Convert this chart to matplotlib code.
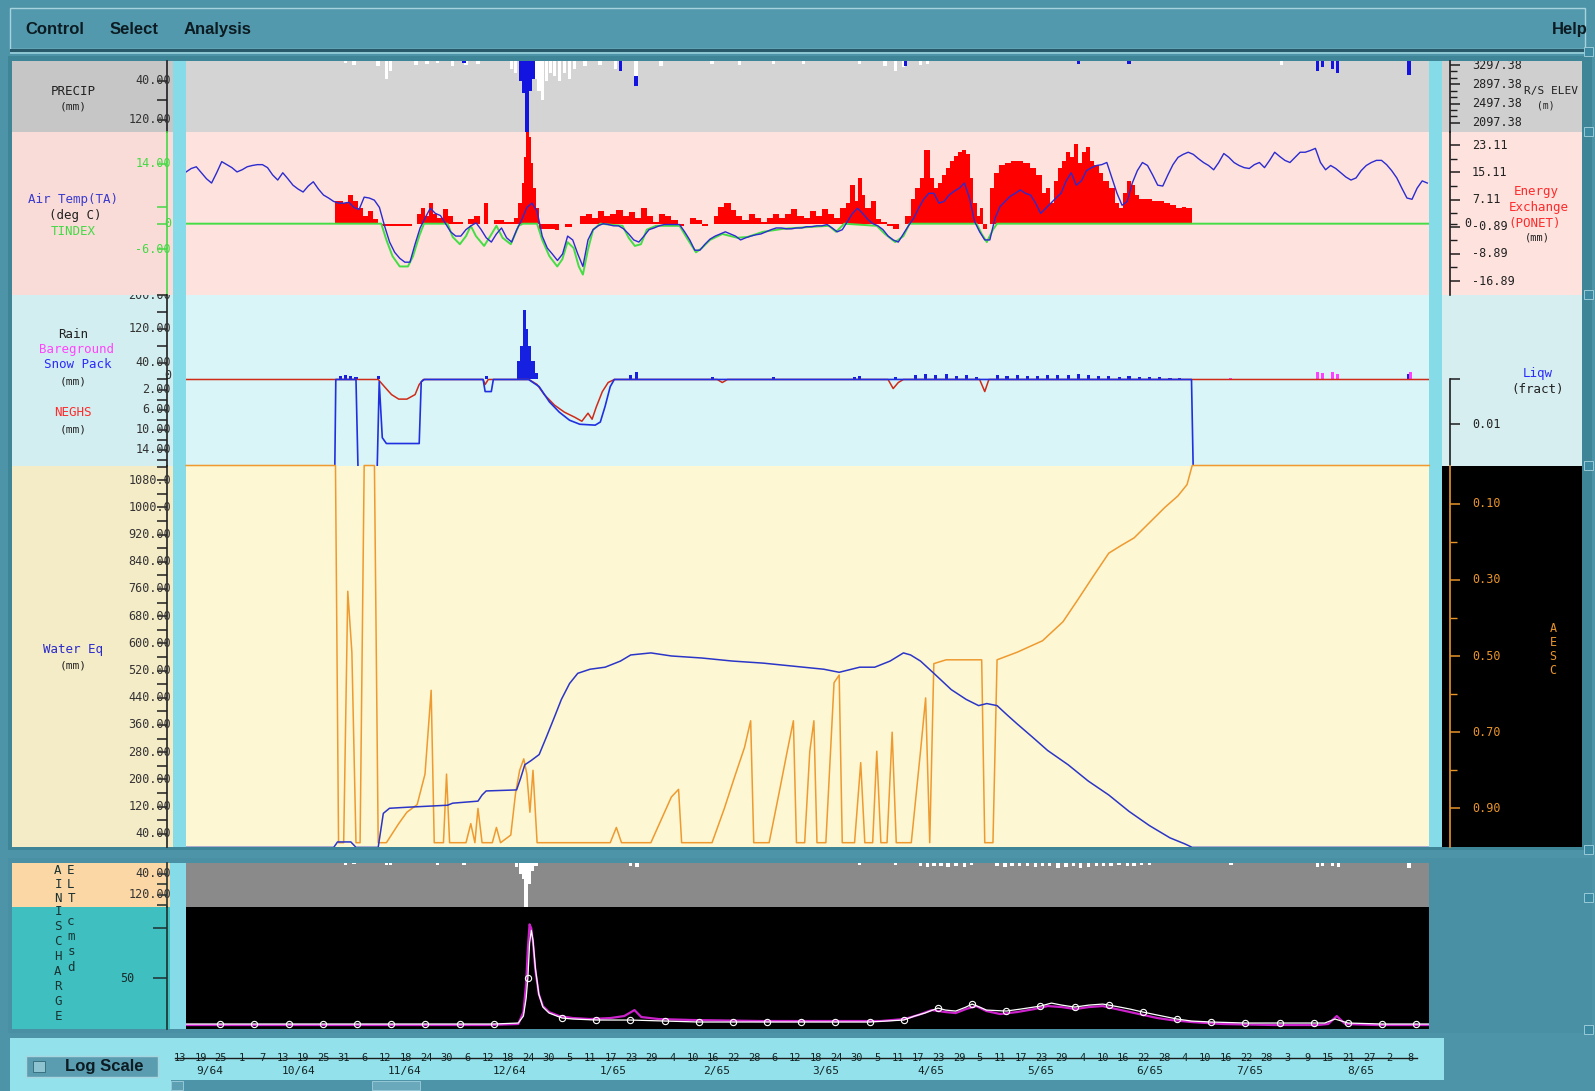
import numpy as np
import matplotlib
matplotlib.use("Agg")
import matplotlib.pyplot as plt
from matplotlib.patches import Rectangle
from matplotlib.transforms import blended_transform_factory

MONO = "DejaVu Sans Mono"
SANS = "Liberation Sans"

# ---------------------------------------------------------------------------
# Time axis: days after 13 Sep 1964
# ---------------------------------------------------------------------------
day_tick_day = list(range(0, 361, 6))
day_tick_labels = ["13", "19", "25", "1", "7", "13", "19", "25", "31", "6",
                   "12", "18", "24", "30", "6", "12", "18", "24", "30", "5",
                   "11", "17", "23", "29", "4", "10", "16", "22", "28", "6",
                   "12", "18", "24", "30", "5", "11", "17", "23", "29", "5",
                   "11", "17", "23", "29", "4", "10", "16", "22", "28", "4",
                   "10", "16", "22", "28", "3", "9", "15", "21", "27", "2", "8"]
month_labels = ["9/64", "10/64", "11/64", "12/64", "1/65", "2/65",
                "3/65", "4/65", "5/65", "6/65", "7/65", "8/65"]
month_label_day = [8.8, 34.6, 65.8, 96.5, 126.8, 157.0,
                   189.0, 219.7, 252.0, 283.7, 312.9, 345.6]

# ---------------------------------------------------------------------------
# PRECIP (mm): rain (white) and snow (blue) bars
# ---------------------------------------------------------------------------
precip_rain_day = [48.5, 50.9, 58.0, 60.4, 61.6, 69.1, 72.3, 75.3, 79.8, 83.7,
                   87.2, 97.0, 98.2, 104.2, 105.1, 106.0, 107.2, 108.4, 109.6, 111.0,
                   112.5, 114.0, 115.5, 118.5, 122.9, 127.4, 133.4, 140.8, 155.7, 163.7,
                   173.6, 182.5, 198.9, 206.3, 209.3, 211.7, 216.7, 218.8, 322.4]
precip_rain_mm = [4, 8, 10, 37, 21, 8, 6, 4, 10, 8,
                  6, 17, 25, 37, 62, 79, 41, 25, 31, 41,
                  25, 37, 17, 10, 8, 17, 31, 10, 6, 8,
                  6, 6, 6, 10, 21, 12, 8, 6, 8]
precip_snow_day = [83.1, 99.7, 100.6, 101.5, 102.4, 103.3, 128.9, 133.4,
                   212.3, 262.9, 277.7, 332.8, 334.3, 337.3, 338.8, 359.6]
precip_snow_mm = [4, 41, 66, 160, 62, 37, 20, 20,
                  10, 6, 6, 21, 12, 17, 25, 29]

# ---------------------------------------------------------------------------
# Air temperature (deg C), 1.5-day samples
# ---------------------------------------------------------------------------
air_temp = [12.1, 12.9, 13.3, 11.9, 10.5, 9.5, 11.9, 14.5, 13.8, 13.1,
            12.1, 12.6, 13.3, 13.6, 13.8, 13.8, 13.1, 11.4, 10.2, 11.9,
            10.5, 9.0, 8.1, 7.4, 8.8, 9.8, 8.1, 6.7, 6.0, 5.2,
            4.8, 4.8, 5.0, 3.8, 3.3, 6.2, 6.0, 5.5, 3.8, -0.5,
            -4.3, -6.7, -8.1, -9.0, -9.0, -4.8, -1.0, 1.4, 3.6, 2.4,
            1.9, 0.0, -1.9, -2.9, -2.9, -1.4, -0.5, 0.2, -1.4, -3.3,
            -4.3, -2.4, -1.0, -3.3, -4.3, -1.4, 1.0, 3.8, 4.8, 2.9,
            -2.9, -5.7, -7.1, -8.6, -7.1, -2.9, -3.8, -7.1, -10.0, -3.8,
            -1.4, -0.5, 0.0, -0.2, -0.5, -0.5, -1.2, -2.4, -3.8, -4.3,
            -2.9, -1.4, -1.0, -0.5, -0.2, -0.2, -0.2, -0.2, -1.9, -3.8,
            -6.2, -6.2, -4.8, -3.6, -2.9, -2.4, -1.9, -2.4, -2.9, -3.8,
            -3.3, -2.9, -2.6, -2.4, -1.9, -1.4, -1.0, -1.0, -1.2, -1.2,
            -1.0, -1.0, -0.7, -0.7, -0.5, -0.5, -0.2, -1.0, -1.9, -1.4,
            0.5, 2.4, 3.6, 2.4, 1.0, 0.0, -0.5, -1.4, -2.9, -3.8,
            -4.3, -2.4, -0.5, 1.2, 3.6, 5.7, 7.1, 7.1, 4.8, 5.2,
            6.7, 7.6, 8.3, 9.5, 6.0, 0.5, -1.9, -3.8, -3.8, 1.2,
            4.0, 5.2, 6.4, 7.1, 7.9, 7.1, 6.7, 4.8, 2.4, 3.6,
            4.8, 6.0, 7.1, 10.0, 11.9, 9.0, 10.0, 12.4, 13.1, 13.6,
            13.8, 14.3, 10.7, 7.1, 4.3, 5.2, 9.5, 12.4, 14.3, 13.6,
            11.4, 9.0, 8.8, 11.4, 13.8, 15.5, 16.2, 16.7, 16.2, 15.2,
            14.3, 13.6, 12.6, 14.3, 16.4, 15.5, 14.3, 13.6, 13.1, 12.9,
            13.8, 14.3, 13.1, 14.8, 16.7, 15.7, 14.8, 14.3, 15.5, 16.7,
            16.7, 17.1, 17.6, 14.3, 12.6, 13.6, 12.9, 11.9, 10.9, 10.2,
            10.7, 12.4, 13.6, 14.3, 14.8, 14.8, 13.8, 12.4, 10.7, 8.3,
            6.0, 5.7, 8.3, 10.0, 9.5]
temp_first_day, temp_last_day = 1.8, 365.0

# TINDEX (deg C)
tindex_day = [1.8, 58.9, 60.4, 62.2, 64.3, 66.7, 68.2, 70.0, 71.4, 78.3,
              79.8, 81.9, 83.7, 85.1, 86.6, 89.0, 90.8, 92.6, 94.4, 96.8,
              99.1, 100.3, 104.5, 106.0, 108.1, 110.4, 111.9, 113.4, 115.2, 116.7,
              117.9, 119.4, 120.9, 123.0, 129.5, 131.3, 133.1, 134.9, 136.6, 139.3,
              146.2, 148.3, 151.0, 152.7, 155.1, 158.7, 163.1, 166.1, 170.6, 176.5,
              185.5, 189.9, 192.0, 194.4, 203.9, 206.3, 209.3, 211.7, 213.5, 233.1,
              234.6, 236.1, 237.9, 239.1, 365.6]
tindex_val = [0, 0, -3.8, -7.6, -10.0, -10.0, -7.6, -2.9, 0, 0,
              -3.1, -4.8, -2.9, -0.5, -2.9, -5.2, -2.9, -0.5, -3.3, -4.8,
              -0.5, 0, 0, -3.8, -7.6, -10.0, -8.3, -4.3, -5.7, -10.0,
              -11.9, -6.0, -1.4, 0, -0.5, -3.3, -5.2, -4.8, -1.4, -0.5,
              -0.5, -3.3, -6.7, -5.7, -3.8, -2.4, -3.3, -3.1, -1.9, -1.2,
              -0.7, -0.5, -1.9, 0, -0.5, -2.4, -4.3, -2.9, 0, 0,
              -2.4, -4.3, -1.4, 0, 0]

# Energy exchange PONET (mm)
ponet_day = [1.8, 45.5, 47.6, 49.1, 50.6, 52.1, 53.6, 55.1, 56.6, 58.0,
             58.9, 67.9, 69.4, 70.6, 71.7, 72.9, 74.1, 75.3, 77.1, 78.3,
             79.8, 82.8, 84.2, 86.0, 87.8, 89.0, 90.2, 92.0, 94.7, 97.6,
             98.8, 100.0, 100.6, 101.2, 102.1, 102.7, 103.3, 104.2, 105.1, 109.6,
             111.0, 112.8, 114.6, 117.0, 118.8, 120.6, 122.4, 124.1, 125.9, 127.7,
             129.5, 131.3, 133.1, 134.9, 136.6, 138.4, 140.2, 142.0, 143.8, 145.6,
             147.4, 149.1, 150.9, 152.7, 154.5, 156.3, 157.5, 159.3, 161.1, 162.8,
             164.6, 166.4, 168.2, 170.0, 171.8, 173.6, 175.3, 177.1, 178.9, 180.7,
             182.5, 184.3, 186.1, 187.9, 189.6, 191.4, 193.2, 195.0, 196.2, 197.4,
             198.3, 199.5, 200.6, 202.1, 203.6, 205.1, 206.9, 208.7, 210.5, 212.3,
             213.8, 215.0, 216.5, 217.7, 219.4, 220.6, 221.8, 223.0, 224.2, 225.4,
             226.5, 227.7, 228.9, 230.1, 231.3, 232.2, 233.1, 234.0, 234.9, 236.1,
             237.0, 238.2, 239.6, 241.4, 243.2, 245.0, 246.8, 248.6, 250.4, 252.2,
             253.3, 254.5, 255.7, 256.9, 258.1, 259.3, 260.5, 261.7, 262.9, 264.1,
             265.2, 266.4, 267.6, 268.8, 270.0, 271.8, 273.6, 274.8, 276.0, 277.2,
             278.3, 279.5, 280.7, 282.5, 284.3, 286.1, 287.9, 289.7, 291.4, 293.2,
             294.4, 296.2, 365.6]
ponet_mm = [0, 6.6, 6.0, 8.4, 6.6, 4.5, 2.4, 3.6, 1.5, 0,
            -0.6, 0, 3.0, 4.5, 2.4, 6.0, 3.0, 1.8, 4.2, 2.4,
            0.6, 0, 1.5, 2.4, 0, 6.0, 0, 1.2, 0.6, 1.8,
            6.0, 12.0, 19.5, 27.0, 25.5, 18.0, 10.5, 4.5, -1.5, -1.8,
            0, -0.9, 0, 2.4, 3.0, 1.8, 3.6, 2.4, 3.0, 3.9,
            2.4, 3.3, 1.8, 4.5, 2.4, 0.6, 3.0, 2.4, 1.2, -0.6,
            0, 1.8, 1.2, -0.6, 0, 2.4, 4.8, 6.0, 3.9, 2.4,
            1.2, 3.0, 1.8, 0.6, 1.8, 3.0, 1.8, 3.0, 4.2, 2.4,
            1.8, 3.6, 2.4, 4.2, 3.0, 1.8, 4.5, 6.0, 11.4, 6.6,
            13.5, 8.4, 4.5, 6.6, 1.5, 0.6, -0.6, -1.5, 0, 2.4,
            7.2, 10.5, 13.5, 21.6, 13.5, 10.5, 12.0, 14.4, 16.5, 18.6,
            19.8, 21.0, 21.6, 20.4, 13.5, 6.0, 2.4, 4.5, -1.5, 0,
            10.5, 15.0, 17.4, 18.0, 18.6, 18.6, 18.0, 16.5, 14.4, 9.0,
            10.5, 6.0, 12.6, 16.5, 18.6, 21.0, 19.5, 23.4, 18.0, 21.0,
            22.5, 18.6, 17.4, 15.0, 12.6, 10.5, 6.0, 4.5, 9.0, 12.6,
            11.4, 8.4, 7.2, 7.2, 6.6, 6.6, 6.0, 5.4, 4.5, 4.8,
            4.5, 0, 0]

# ---------------------------------------------------------------------------
# Rain / bareground / snow pack (mm), NEGHS (mm), Liqw (fract)
# ---------------------------------------------------------------------------
snowpack_day = [47.0, 48.5, 50.0, 51.5, 58.0, 89.6, 99.1, 100.0, 100.9, 101.5,
                102.4, 103.3, 104.2, 131.9, 133.7, 155.7, 173.6, 197.4, 198.9, 209.3,
                215.2, 218.2, 221.2, 224.2, 227.1, 230.1, 233.1, 239.1, 242.0, 245.0,
                248.0, 251.0, 253.9, 256.9, 259.9, 262.9, 265.8, 268.8, 271.8, 274.8,
                277.7, 280.7, 283.7, 286.7, 289.7, 292.6, 359.6]
snowpack_mm = [7, 10, 8, 6, 7, 8, 43, 80, 164, 120,
               80, 43, 15, 10, 17, 5, 5, 6, 8, 5,
               10, 12, 10, 12, 9, 10, 6, 10, 9, 10,
               8, 9, 10, 11, 10, 12, 10, 9, 8, 6,
               8, 6, 5, 5, 4, 4, 12]
bareground_day = [307.5, 332.8, 334.3, 337.3, 338.8, 360.2]
bareground_mm = [4, 18, 15, 17, 14, 18]

neghs_day = [1.8, 58.0, 59.8, 61.9, 64.0, 66.4, 68.8, 70.0, 71.2, 88.7,
             89.3, 90.2, 102.1, 104.5, 106.6, 109.6, 112.5, 115.5, 117.6, 119.4,
             120.6, 121.8, 123.6, 125.3, 127.1, 157.2, 158.7, 160.2, 207.2, 208.7,
             210.2, 211.7, 234.0, 235.5, 236.7, 365.6]
neghs_mm = [0, 0, 1.4, 3.0, 3.9, 3.9, 3.0, 1.0, 0, 0,
            1.0, 0, 0, 1.0, 3.0, 5.1, 6.5, 7.5, 8.3, 6.7,
            7.9, 5.5, 2.4, 0.6, 0, 0, 0.6, 0, 0, 1.8,
            0.6, 0, 0, 2.4, 0, 0]

liqw_day = [1.8, 45.3, 45.6, 51.5, 52.1, 57.7, 58.3, 59.2, 60.4, 70.0,
            70.6, 71.5, 88.7, 89.3, 91.1, 91.7, 102.0, 105.1, 108.1, 111.0,
            114.0, 117.0, 121.5, 123.0, 124.4, 125.9, 127.1, 296.0, 296.5, 365.6]
liqw_fract = [0.02, 0.02, 0.0, 0.0, 0.02, 0.02, 0.0005, 0.013, 0.0143, 0.0143,
              0.0005, 0.0, 0.0, 0.0027, 0.0027, 0.0, 0.0, 0.0016, 0.005, 0.0073,
              0.0091, 0.01, 0.0102, 0.0095, 0.006, 0.0016, 0.0, 0.0, 0.02, 0.02]

# ---------------------------------------------------------------------------
# Water equivalent (mm) and areal extent of snow cover AESC (fract)
# ---------------------------------------------------------------------------
swe_day = [1.8, 45.0, 46.1, 50.0, 51.5, 58.0, 59.5, 61.3, 66.4, 78.3,
           79.8, 87.2, 88.4, 89.6, 98.5, 99.7, 100.9, 102.7, 105.1, 107.2,
           109.6, 111.6, 114.0, 116.4, 120.0, 124.4, 128.9, 131.9, 137.8, 143.8,
           152.7, 161.7, 170.6, 179.5, 188.4, 192.9, 198.9, 203.3, 207.8, 211.7,
           213.8, 216.7, 220.6, 225.7, 230.1, 233.7, 236.1, 239.1, 242.0, 245.0,
           249.5, 253.9, 259.9, 265.8, 271.8, 277.7, 283.7, 289.7, 294.1, 296.2,
           365.6]
swe_mm = [0, 0, 16, 16, 0, 0, 100, 115, 118, 124,
          130, 136, 154, 166, 169, 204, 243, 255, 273, 324,
          384, 435, 482, 512, 524, 530, 548, 566, 572, 563,
          557, 548, 542, 533, 524, 515, 530, 530, 548, 572,
          566, 548, 512, 464, 435, 417, 423, 417, 390, 363,
          324, 285, 243, 195, 154, 106, 64, 28, 10, 0,
          0]

aesc_day = [1.8, 45.5, 46.4, 47.9, 49.1, 50.3, 51.5, 52.7, 53.9, 56.9,
            58.0, 60.4, 64.0, 66.4, 69.4, 71.7, 73.5, 74.4, 77.1, 78.0,
            78.9, 83.7, 85.1, 86.3, 87.2, 88.4, 91.4, 92.6, 93.8, 96.8,
            98.2, 99.4, 100.6, 101.5, 102.4, 103.3, 104.5, 125.9, 127.7, 129.2,
            137.8, 140.8, 143.8, 145.9, 146.8, 155.7, 159.3, 162.2, 165.2, 167.0,
            167.9, 172.4, 175.3, 177.7, 179.5, 180.4, 182.8, 184.3, 185.5, 186.4,
            189.0, 191.4, 192.9, 193.8, 197.4, 199.2, 200.4, 202.7, 203.9, 205.1,
            206.9, 208.4, 209.6, 214.0, 216.7, 218.2, 219.4, 220.6, 224.2, 234.6,
            235.5, 237.9, 239.1, 245.0, 252.4, 258.4, 262.9, 267.3, 271.8, 275.4,
            279.2, 283.7, 288.2, 292.0, 294.7, 296.2, 365.6]
aesc_fract = [0, 0, 0.99, 0.99, 0.33, 0.49, 0.99, 0.99, 0, 0,
              0.99, 0.99, 0.94, 0.91, 0.89, 0.81, 0.59, 0.99, 0.99, 0.81,
              0.99, 0.99, 0.94, 0.99, 0.90, 0.99, 0.99, 0.95, 0.99, 0.97,
              0.86, 0.80, 0.77, 0.81, 0.91, 0.80, 0.99, 0.99, 0.95, 0.99,
              0.99, 0.93, 0.87, 0.85, 0.99, 0.99, 0.90, 0.82, 0.74, 0.67,
              0.99, 0.99, 0.86, 0.75, 0.67, 0.99, 0.99, 0.75, 0.67, 0.99,
              0.99, 0.57, 0.55, 0.99, 0.99, 0.78, 0.99, 0.99, 0.75, 0.99,
              0.99, 0.70, 0.99, 0.99, 0.75, 0.61, 0.99, 0.52, 0.51, 0.51,
              0.99, 0.99, 0.51, 0.49, 0.46, 0.41, 0.35, 0.29, 0.23, 0.21,
              0.19, 0.15, 0.11, 0.08, 0.05, 0, 0]

# ---------------------------------------------------------------------------
# Rain + melt (mm) and discharge (cms)
# ---------------------------------------------------------------------------
rainmelt_day = [48.5, 50.9, 60.4, 61.6, 75.3, 83.1, 98.5, 99.7, 100.6, 101.2,
                102.1, 103.0, 104.2, 131.9, 133.7, 198.9, 209.3, 216.7, 218.8, 220.6,
                222.7, 224.8, 227.1, 229.5, 231.6, 239.1, 241.4, 243.5, 245.6, 248.0,
                250.4, 252.4, 254.5, 256.9, 259.3, 261.4, 263.5, 265.8, 268.2, 270.3,
                272.4, 274.8, 277.2, 279.2, 281.3, 283.7, 307.5, 332.8, 334.3, 337.3,
                339.1, 359.6]
rainmelt_mm = [6, 4, 8, 6, 8, 6, 15, 40, 60, 170,
               80, 30, 10, 10, 15, 8, 8, 12, 15, 10,
               12, 15, 12, 15, 8, 12, 15, 12, 10, 12,
               15, 10, 12, 18, 15, 12, 18, 15, 12, 10,
               12, 8, 12, 10, 8, 6, 6, 15, 10, 12,
               15, 18]

obs_day = [1.8, 11.8, 21.8, 31.8, 41.8, 51.8, 61.8, 71.8, 81.8, 91.8,
           99.0, 100.5, 101.3, 101.8, 102.3, 102.8, 103.3, 104.0, 105.0, 106.2,
           108.0, 111.8, 115.0, 121.8, 131.8, 141.8, 151.8, 161.8, 171.8, 181.8,
           191.8, 201.8, 211.8, 215.0, 218.0, 221.8, 224.0, 227.0, 230.0, 231.8,
           234.0, 236.0, 241.8, 246.0, 251.8, 255.0, 258.0, 261.8, 266.0, 270.0,
           271.8, 275.0, 278.0, 281.8, 286.0, 291.8, 296.0, 301.8, 311.8, 321.8,
           331.8, 335.0, 338.0, 341.8, 351.8, 361.8, 365.5]
obs_cms = [4, 4, 4, 4, 4, 4, 4, 4, 4, 4,
           5, 12, 30, 50, 85, 98, 88, 60, 34, 21,
           15, 10, 9, 8, 8, 7, 6, 6, 6, 6,
           6, 6, 8, 12, 15, 20, 18, 17, 21, 24,
           21, 18, 17, 19, 22, 25, 23, 21, 23, 24,
           23, 21, 19, 16, 13, 9, 7, 6, 5, 5,
           5, 5, 9, 5, 4, 4, 4]
obs_marker_day = [11.8, 21.8, 31.8, 41.8, 51.8, 61.8, 71.8, 81.8, 91.8, 101.8,
                  111.8, 121.8, 131.8, 141.8, 151.8, 161.8, 171.8, 181.8, 191.8, 201.8,
                  211.8, 221.8, 231.8, 241.8, 251.8, 261.8, 271.8, 281.8, 291.8, 301.8,
                  311.8, 321.8, 331.8, 341.8, 351.8, 361.8]

sim_day = [1.8, 30, 60, 90, 99.0, 100.5, 101.3, 101.8, 102.3, 102.8,
           103.3, 104.0, 105.0, 106.2, 108.0, 111.0, 115.0, 120.0, 126.0, 130.0,
           133.0, 135.0, 140.0, 150.0, 170.0, 190.0, 205.0, 212.0, 216.0, 220.0,
           224.0, 227.0, 230.0, 233.0, 236.0, 240.0, 245.0, 250.0, 254.0, 258.0,
           262.0, 266.0, 270.0, 274.0, 278.0, 282.0, 286.0, 290.0, 296.0, 305.0,
           320.0, 333.0, 336.0, 338.5, 341.0, 350.0, 365.5]
sim_cms = [3, 3, 3, 3, 4, 16, 45, 80, 104, 100,
           86, 58, 34, 22, 16, 12, 10, 9, 10, 12,
           18, 11, 9, 8, 7, 7, 7, 9, 13, 18,
           16, 15, 19, 22, 17, 14, 16, 19, 22, 21,
           19, 21, 22, 19, 16, 13, 10, 8, 6, 4,
           3, 3, 4, 12, 4, 3, 3]

# ---------------------------------------------------------------------------
# Figure scaffolding (pixel layout of the window)
# ---------------------------------------------------------------------------
W, H = 1595, 1091
fig = plt.figure(figsize=(W / 100, H / 100), dpi=100)
TEAL = "#4e94a9"
fig.patch.set_facecolor(TEAL)


def frac_rect(x0, y0, x1, y1):
    return [x0 / W, 1 - y1 / H, (x1 - x0) / W, (y1 - y0) / H]


def block(x0, y0, x1, y1, color, ec="none", lw=0, z=-1):
    fig.add_artist(Rectangle((x0 / W, 1 - y1 / H), (x1 - x0) / W, (y1 - y0) / H,
                             transform=fig.transFigure, facecolor=color,
                             edgecolor=ec, lw=lw, zorder=z))


def ftext(x, y, s, **kw):
    kw.setdefault("family", MONO)
    kw.setdefault("fontsize", 9)
    kw.setdefault("ha", "center")
    kw.setdefault("va", "center")
    fig.text(x / W, 1 - y / H, s, **kw)


# menu bar
block(10, 8, 1585, 49, "#5299ad", ec="#a6d3de", lw=1.0)
block(10, 49, 1585, 52, "#28596a")
block(10, 52, 1585, 54, "#8fc6d4")
ftext(25, 29.5, "Control", family=SANS, fontsize=12, weight="bold", ha="left", color="#0c1c22")
ftext(110, 29.5, "Select", family=SANS, fontsize=12, weight="bold", ha="left", color="#0c1c22")
ftext(184, 29.5, "Analysis", family=SANS, fontsize=12, weight="bold", ha="left", color="#0c1c22")
ftext(1588, 29.5, "Help", family=SANS, fontsize=12, weight="bold", ha="right", color="#0c1c22")

# rows of the upper frame (full-pixel y extents)
ROW_P = (61, 132)
ROW_T = (132, 295)
ROW_R = (295, 466)
ROW_W = (466, 847)
ROW_AE = (863, 907)
ROW_Q = (907, 1029)
PX0, PX1 = 186, 1429
XL = (1.76, 365.5)

block(8, 56, 1592, 850, "#3f8598")
for (y0, y1), lc, rc in [(ROW_P, "#c6c6c6", "#cfcfcf"),
                         (ROW_T, "#f9dcd8", "#fde2de"),
                         (ROW_R, "#d3eef0", "#d6eef0"),
                         (ROW_W, "#f4ebc7", "#000000")]:
    block(12, y0, 173, y1, lc)
    block(1442, y0, 1582, y1, rc)
block(173, 61, 186, 847, "#86dbe8")
block(1429, 61, 1442, 847, "#86dbe8")

# lower frame
block(8, 858, 1592, 1033, "#4a90a5")
block(12, ROW_AE[0], 170, ROW_AE[1], "#fcd7a6")
block(12, ROW_Q[0], 170, ROW_Q[1], "#3fbfc0")
block(170, ROW_AE[0], 186, ROW_Q[1], "#86dbe8")

# time bar
block(10, 1038, 1444, 1091, "#93e1ea")
block(171, 1080, 1444, 1091, "#4e94a9")
block(372, 1081, 420, 1090, "#6aa9bb", ec="#9fd0dc", lw=0.6)
block(171, 1081, 183, 1090, "#5ea0b3", ec="#9fd0dc", lw=0.6)
block(26, 1056, 158, 1077, "#5b9db0", ec="#a8d6e0", lw=1.0)
block(33, 1061, 45, 1072, "#8ec3d1", ec="#2f6677", lw=0.6)
ftext(104, 1066.5, "Log Scale", family=SANS, fontsize=12, weight="bold", color="#0c1c22")

# small window buttons at the right edge
for yb in (52, 132, 295, 466, 850, 898, 1030):
    block(1584, yb - 5, 1593, yb + 4, "#3b8aa2", ec="#a6d3de", lw=0.6, z=2)


def panel(rows, face):
    y0, y1 = rows
    ax = fig.add_axes(frac_rect(PX0, y0, PX1, y1))
    ax.set_facecolor(face)
    ax.set_xlim(*XL)
    for s in ax.spines.values():
        s.set_visible(False)
    ax.set_xticks([])
    ax.set_yticks([])
    return ax


def twin(ax):
    t = ax.twinx()
    for s in t.spines.values():
        s.set_visible(False)
    t.set_yticks([])
    t.set_xlim(*XL)
    return t


def left_scale(rows, ylim, ticks, labels, color="#1e1e1e", lcolor="#333333",
               bounds=None, minor=None, tlen=7, label_x=159, fs=8.5, ha="right"):
    y0, y1 = rows
    ax = fig.add_axes(frac_rect(12, y0, 173, y1))
    ax.patch.set_visible(False)
    ax.set_xlim(0, 1)
    ax.set_ylim(*ylim)
    for s in ("left", "top", "bottom"):
        ax.spines[s].set_visible(False)
    sp = ax.spines["right"]
    sp.set_position(("axes", 155 / 161))
    sp.set_color(color)
    sp.set_linewidth(1.2)
    if bounds is not None:
        sp.set_bounds(*bounds)
    ax.set_xticks([])
    ax.yaxis.set_ticks_position("right")
    ax.set_yticks(ticks)
    if minor is not None:
        ax.set_yticks(minor, minor=True)
    ax.tick_params(axis="y", which="both", direction="in", length=tlen, width=1.1,
                   color=color, labelright=False, labelleft=False)
    tr = blended_transform_factory(ax.transAxes, ax.transData)
    for v, s, *va in labels:
        ax.text(label_x / 161, v, s, transform=tr, ha=ha,
                va=va[0] if va else "center", fontsize=fs, family=MONO,
                color=lcolor, clip_on=True)
    return ax


def right_scale(rows, ylim, major, minor, labels, color="#1e1e1e", lcolor="#222222",
                bounds=None):
    y0, y1 = rows
    ax = fig.add_axes(frac_rect(1442, y0, 1582, y1))
    ax.patch.set_visible(False)
    ax.set_xlim(0, 1)
    ax.set_ylim(*ylim)
    for s in ("right", "top", "bottom"):
        ax.spines[s].set_visible(False)
    sp = ax.spines["left"]
    sp.set_position(("axes", 8 / 140))
    sp.set_color(color)
    sp.set_linewidth(1.2)
    if bounds is not None:
        sp.set_bounds(*bounds)
    ax.set_xticks([])
    ax.yaxis.set_ticks_position("left")
    ax.set_yticks(major)
    ax.set_yticks(minor, minor=True)
    ax.tick_params(axis="y", which="major", direction="in", length=7, width=1.1,
                   color=color, labelleft=False)
    ax.tick_params(axis="y", which="minor", direction="in", length=5, width=1.0,
                   color=color)
    tr = blended_transform_factory(ax.transAxes, ax.transData)
    for v, s in labels:
        ax.text(30 / 140, v, s, transform=tr, ha="left", va="center", fontsize=8.5,
                family=MONO, color=lcolor, clip_on=True)
    return ax


def fmt(v):
    s = "%.2f" % v
    return s if len(s) <= 6 else s[:6]


# ---------------------------------------------------------------------------
# PRECIP panel
# ---------------------------------------------------------------------------
P_LIM = (145, 0)
ax_p = panel(ROW_P, "#d4d4d4")
ax_p.set_ylim(*P_LIM)
ax_p.bar(precip_rain_day, precip_rain_mm, width=1.0, color="white", lw=0)
rain_on_day = dict(zip(precip_rain_day, precip_rain_mm))
snow_bottom = [rain_on_day.get(d, 0) for d in precip_snow_day]
ax_p.bar(precip_snow_day, precip_snow_mm, bottom=snow_bottom, width=1.0,
         color="#1414e0", lw=0)
left_scale(ROW_P, P_LIM, [40, 80, 120], [(40, fmt(40)), (120, fmt(120))])
ftext(73, 91.5, "PRECIP", color="#202020")
ftext(73, 107, "(mm)", color="#202020", fontsize=8)

ELEV_LIM = (1908, 3381)
elev_major = [2097.38, 2497.38, 2897.38, 3297.38]
elev_minor = [2230.71, 2364.05, 2630.71, 2764.05, 3030.71, 3164.05]
right_scale(ROW_P, ELEV_LIM, elev_major, elev_minor,
            [(v, "%.2f" % v) for v in elev_major])
ftext(1524, 91, "R/S ELEV", ha="left", color="#202020", fontsize=8)
ftext(1546, 106, "(m)", color="#202020", fontsize=7)

# ---------------------------------------------------------------------------
# Air temperature / TINDEX / energy exchange panel
# ---------------------------------------------------------------------------
E_LIM = (-21.0, 27.0)
T_LIM = (-16.67, 21.43)
ax_e = panel(ROW_T, "#fde2de")
ax_e.set_ylim(*E_LIM)
ax_e.fill_between(ponet_day, ponet_mm, 0, step="post", color="#ff0000", lw=0)
ax_t = twin(ax_e)
ax_t.set_ylim(*T_LIM)
ax_t.plot(tindex_day, tindex_val, color="#45dd45", lw=1.4)
temp_day = np.linspace(temp_first_day, temp_last_day, len(air_temp))
ax_t.plot(temp_day, air_temp, color="#2b2bd0", lw=1.0)

GREEN = "#45d845"
left_scale(ROW_T, T_LIM, [14, 4, 0, -6],
           [(14, "14.00"), (0, "0"), (-6, "-6.00")], color=GREEN, lcolor=GREEN)
ftext(73, 200, "Air Temp(TA)", color="#3a3acc")
ftext(75, 216, "(deg C)", color="#202020")
ftext(73, 231, "TINDEX", color=GREEN)

ponet_major = [-16.89, -8.89, -0.89, 7.11, 15.11, 23.11]
ponet_minor = [-12.89, -4.89, 0, 3.11, 11.11, 19.11]
ax_er = right_scale(ROW_T, E_LIM, ponet_major, ponet_minor,
                    [(v, "%.2f" % v) for v in ponet_major])
ax_er.text(22 / 140, 0, "0", transform=blended_transform_factory(ax_er.transAxes, ax_er.transData),
           ha="left", va="center", fontsize=8.5, family=MONO, color="#222222")
RED = "#ff2a2a"
ftext(1536, 192, "Energy", color=RED)
ftext(1539, 208, "Exchange", color=RED)
ftext(1535, 223, "(PONET)", color=RED)
ftext(1537, 238, "(mm)", color="#202020", fontsize=7.5)

# ---------------------------------------------------------------------------
# Rain / bareground / snow pack, NEGHS, Liqw panel
# ---------------------------------------------------------------------------
R_LIM = (-205, 200)
N_LIM = (17.2, -16.8)
L_LIM = (0.01932, -0.01886)
ax_r = panel(ROW_R, "#d9f5f7")
ax_r.set_ylim(*R_LIM)
ax_r.bar(snowpack_day, snowpack_mm, width=0.9, color="#1520e0", lw=0)
ax_r.bar(bareground_day, bareground_mm, width=0.9, color="#ff40ff", lw=0)
ax_n = twin(ax_r)
ax_n.set_ylim(*N_LIM)
ax_n.plot(neghs_day, neghs_mm, color="#d02a18", lw=1.1)
ax_l = twin(ax_r)
ax_l.set_ylim(*L_LIM)
ax_l.plot(liqw_day, liqw_fract, color="#2030e0", lw=1.2)

left_scale(ROW_R, R_LIM, [0, 40, 80, 120, 160, 200],
           [(200, fmt(200)), (120, fmt(120)), (40, fmt(40)), (0, "0", "baseline")],
           bounds=(0, 200))
left_scale(ROW_R, N_LIM, [2, 4, 6, 8, 10, 12, 14, 16],
           [(2, fmt(2)), (6, fmt(6)), (10, fmt(10)), (14, fmt(14))],
           bounds=(0, 17.2))
ftext(73, 334, "Rain", color="#202020")
ftext(76, 350, "Bareground", color="#ff44ff")
ftext(78, 365, "Snow Pack", color="#2a2aff")
ftext(73, 381, "(mm)", color="#202020", fontsize=8)
ftext(73, 413, "NEGHS", color=RED)
ftext(73, 429, "(mm)", color="#202020", fontsize=8)

right_scale(ROW_R, L_LIM, [0, 0.01], [], [(0.01, "0.01")], bounds=(0, 0.0193))
ftext(1538, 374, "Liqw", color="#2a2aff")
ftext(1538, 390, "(fract)", color="#202020")

# ---------------------------------------------------------------------------
# Water equivalent / AESC panel
# ---------------------------------------------------------------------------
A_LIM = (1.0013, 0.0013)
S_LIM = (1.1, 1121.8)
ORANGE = "#ee9a30"
ax_a = panel(ROW_W, "#fdf7d3")
ax_a.set_ylim(*A_LIM)
ax_a.plot(aesc_day, aesc_fract, color=ORANGE, lw=1.1, clip_on=False)
ax_w = twin(ax_a)
ax_w.set_ylim(*S_LIM)
ax_w.plot(swe_day, swe_mm, color="#2b35c8", lw=1.1)

swe_ticks = list(range(40, 1121, 40))
swe_labels = [(v, fmt(v)) for v in range(40, 1081, 80)]
left_scale(ROW_W, S_LIM, swe_ticks, swe_labels)
ftext(73, 650, "Water Eq", color="#2a2acc")
ftext(73, 666, "(mm)", color="#202020", fontsize=8)

ORANGE_T = "#e8942a"
right_scale(ROW_W, A_LIM, [0.1, 0.3, 0.5, 0.7, 0.9], [0.2, 0.4, 0.6, 0.8],
            [(v, "%.2f" % v) for v in (0.1, 0.3, 0.5, 0.7, 0.9)],
            color=ORANGE_T, lcolor=ORANGE_T)
for yy, ch in zip((629, 643, 657, 671), "AESC"):
    ftext(1553, yy, ch, color=ORANGE_T, fontsize=8.5)

# ---------------------------------------------------------------------------
# Rain + melt panel and discharge panel
# ---------------------------------------------------------------------------
M_LIM = (167, 0)
ax_m = panel(ROW_AE, "#8a8a8a")
ax_m.set_ylim(*M_LIM)
ax_m.bar(rainmelt_day, rainmelt_mm, width=1.0, color="white", lw=0)
left_scale(ROW_AE, M_LIM, [40, 80, 120, 160], [(40, fmt(40)), (120, fmt(120))],
           color="#1e2e2e")

Q_LIM = (-1, 121.4)
ax_q = panel(ROW_Q, "black")
ax_q.set_ylim(*Q_LIM)
ax_q.plot(sim_day, sim_cms, color="#cc22cc", lw=1.6)
mark_idx = [i for i, d in enumerate(obs_day)
            if np.any(np.isclose(d, obs_marker_day))]
ax_q.plot(obs_day, obs_cms, color="white", lw=0.9, marker="o", markevery=mark_idx,
          ms=4.5, mfc="none", mec="white", mew=0.8)
left_scale(ROW_Q, Q_LIM, [50, 100], [(50, "50")], color="#1e2e2e",
           lcolor="#1a2a2a", tlen=10, label_x=115, ha="center")

# stacked vertical captions of the lower frame
lab_ax = fig.add_axes(frac_rect(12, ROW_AE[0], 170, ROW_Q[1]))
lab_ax.set_xlim(12, 170)
lab_ax.set_ylim(ROW_Q[1], ROW_AE[0])
lab_ax.axis("off")
cap_col1 = [("R", 857), ("A", 871), ("I", 885), ("N", 899),
            ("I", 912), ("S", 927), ("C", 942), ("H", 957),
            ("A", 972), ("R", 987), ("G", 1002), ("E", 1017)]
cap_col2 = [("M", 857), ("E", 871), ("L", 885), ("T", 899),
            ("c", 922), ("m", 937), ("s", 952), ("d", 968)]
for ch, yy in cap_col1:
    lab_ax.text(58, yy, ch, ha="center", va="center", family=MONO, fontsize=9,
                color="#1a3232", clip_on=True)
for ch, yy in cap_col2:
    lab_ax.text(71, yy, ch, ha="center", va="center", family=MONO, fontsize=9,
                color="#1a3232", clip_on=True)

# ---------------------------------------------------------------------------
# Date axis
# ---------------------------------------------------------------------------
ax_tl = fig.add_axes(frac_rect(PX0, 1044, PX1, 1080))
ax_tl.set_xlim(*XL)
ax_tl.set_ylim(0, 1)
ax_tl.axis("off")
for d, s in zip(day_tick_day, day_tick_labels):
    ax_tl.text(d, 0.62, s, ha="center", va="center", family=MONO, fontsize=7.5,
               color="#142424", clip_on=False)
ax_tl.plot([day_tick_day[0] - 1.5, day_tick_day[-1] + 2.0], [0.62, 0.62],
           color="#1c1c1c", lw=1.0, clip_on=False)
for d, s in zip(month_label_day, month_labels):
    ax_tl.text(d, 0.24, s, ha="center", va="center", family=MONO, fontsize=8,
               color="#142424", clip_on=False)

fig.savefig("out.png", dpi=100, facecolor=fig.get_facecolor())
